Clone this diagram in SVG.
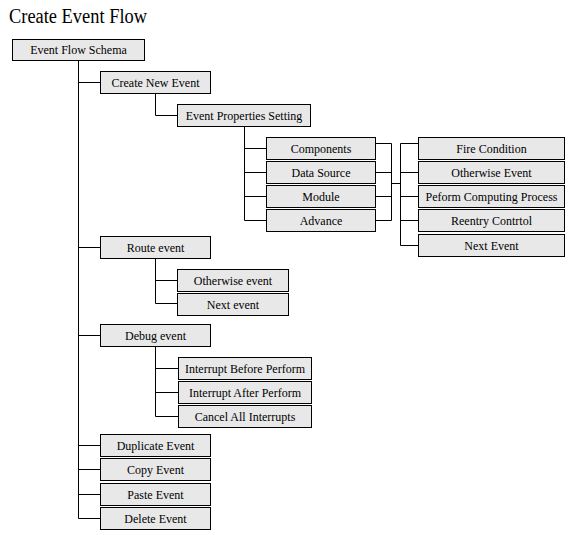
<svg xmlns="http://www.w3.org/2000/svg" width="572" height="535" viewBox="0 0 572 535">
<style>
.b rect{fill:#e8e8e8;stroke:#000;stroke-width:1}
.b text{font-family:"Liberation Serif","Times New Roman",serif;font-size:12px;fill:#000;text-anchor:middle}
.c{stroke:#000;stroke-width:1;fill:none}
.t{font-family:"Liberation Serif","Times New Roman",serif;font-size:20px;fill:#000}
</style>
<rect width="572" height="535" fill="#fff"/>
<text class="t" x="9" y="23" textLength="138" lengthAdjust="spacingAndGlyphs">Create Event Flow</text>
<g class="c" id="connectors">
<path d="M78.5 60.5V518.5M78.5 82.5H100.5M78.5 247.5H100.5M78.5 335.5H100.5M78.5 445.5H100.5M78.5 469.5H100.5M78.5 494.5H100.5M78.5 518.5H100.5"/>
<path d="M155.5 93.5V115.5H177.5"/>
<path d="M244.5 126.5V220.5M244.5 148.5H266.5M244.5 172.5H266.5M244.5 196.5H266.5M244.5 220.5H266.5"/>
<path d="M375.5 143.5H391.5M375.5 172.5H391.5M375.5 196.5H391.5M375.5 220.5H391.5M391.5 143.5V220.5M391.5 183.5H400.5M400.5 143.5V245.5"/>
<path d="M400.5 143.5H418.5M400.5 172.5H418.5M400.5 196.5H418.5M400.5 220.5H418.5M400.5 245.5H418.5"/>
<path d="M155.5 258.5V303.5M155.5 280.5H177.5M155.5 303.5H177.5"/>
<path d="M155.5 346.5V416.5M155.5 368.5H178.5M155.5 392.5H178.5M155.5 416.5H178.5"/>
</g>
<g class="b" id="n-schema"><rect x="12.5" y="39.5" width="132" height="21"/><text x="78.5" y="54">Event Flow Schema</text></g>
<g class="b" id="n-create"><rect x="100.5" y="71.5" width="110" height="22"/><text x="155.5" y="86.5">Create New Event</text></g>
<g class="b" id="n-eps"><rect x="177.5" y="104.5" width="133" height="22"/><text x="244" y="119.5">Event Properties Setting</text></g>
<g class="b" id="n-components"><rect x="266.5" y="137.5" width="109" height="22"/><text x="321" y="152.5">Components</text></g>
<g class="b" id="n-datasource"><rect x="266.5" y="161.5" width="109" height="22"/><text x="321" y="176.5">Data Source</text></g>
<g class="b" id="n-module"><rect x="266.5" y="185.5" width="109" height="22"/><text x="321" y="200.5">Module</text></g>
<g class="b" id="n-advance"><rect x="266.5" y="209.5" width="109" height="22"/><text x="321" y="224.5">Advance</text></g>
<g class="b" id="n-fire"><rect x="418.5" y="137.5" width="146" height="22"/><text x="491.5" y="152.5">Fire Condition</text></g>
<g class="b" id="n-otherwise"><rect x="418.5" y="161.5" width="146" height="22"/><text x="491.5" y="176.5">Otherwise Event</text></g>
<g class="b" id="n-peform"><rect x="418.5" y="185.5" width="146" height="22"/><text x="491.5" y="200.5">Peform Computing Process</text></g>
<g class="b" id="n-reentry"><rect x="418.5" y="209.5" width="146" height="22"/><text x="491.5" y="224.5">Reentry Contrtol</text></g>
<g class="b" id="n-next"><rect x="418.5" y="234.5" width="146" height="22"/><text x="491.5" y="249.5">Next Event</text></g>
<g class="b" id="n-route"><rect x="100.5" y="236.5" width="110" height="22"/><text x="155.5" y="251.5">Route event</text></g>
<g class="b" id="n-route-otherwise"><rect x="177.5" y="269.5" width="111" height="22"/><text x="233" y="284.5">Otherwise event</text></g>
<g class="b" id="n-route-next"><rect x="177.5" y="293.5" width="111" height="22"/><text x="233" y="308.5">Next event</text></g>
<g class="b" id="n-debug"><rect x="100.5" y="324.5" width="110" height="22"/><text x="155.5" y="339.5">Debug event</text></g>
<g class="b" id="n-ibp"><rect x="178.5" y="357.5" width="133" height="22"/><text x="245" y="372.5">Interrupt Before Perform</text></g>
<g class="b" id="n-iap"><rect x="178.5" y="381.5" width="133" height="22"/><text x="245" y="396.5">Interrupt After Perform</text></g>
<g class="b" id="n-cancel"><rect x="178.5" y="405.5" width="133" height="22"/><text x="245" y="420.5">Cancel All Interrupts</text></g>
<g class="b" id="n-duplicate"><rect x="100.5" y="434.5" width="110" height="22"/><text x="155.5" y="449.5">Duplicate Event</text></g>
<g class="b" id="n-copy"><rect x="100.5" y="458.5" width="110" height="22"/><text x="155.5" y="473.5">Copy Event</text></g>
<g class="b" id="n-paste"><rect x="100.5" y="483.5" width="110" height="22"/><text x="155.5" y="498.5">Paste Event</text></g>
<g class="b" id="n-delete"><rect x="100.5" y="507.5" width="110" height="22"/><text x="155.5" y="522.5">Delete Event</text></g>
</svg>
